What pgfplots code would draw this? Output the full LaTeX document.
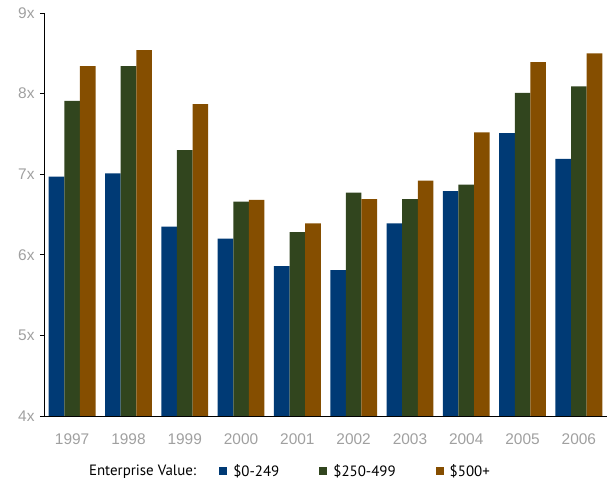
\documentclass[border=0pt]{standalone}
\usepackage{fontspec}
\setmainfont{Liberation Sans}
\newfontfamily\legfont{PT Sans}
\usepackage{pgfplots}
\pgfplotsset{compat=1.18}
\definecolor{cblue}{RGB}{0,58,117}
\definecolor{cgreen}{RGB}{49,69,30}
\definecolor{corange}{RGB}{133,78,0}
\definecolor{tickgray}{RGB}{160,160,160}
\begin{document}
\begin{tikzpicture}
\useasboundingbox (0,0) rectangle (612bp,481bp);
\begin{axis}[
  at={(44bp,65bp)}, anchor=south west,
  scale only axis, width=563bp, height=403bp,
  xmin=-0.5, xmax=9.5, ymin=4, ymax=9,
  ybar=0pt, bar width=15.6bp,
  axis x line*=bottom, axis y line*=left,
  axis line style={black, line width=1pt},
  xtick={0,...,9}, xticklabels={1997,1998,1999,2000,2001,2002,2003,2004,2005,2006},
  xtick style={draw=none},
  ytick={4,5,6,7,8,9}, yticklabels={4x,5x,6x,7x,8x,9x},
  tick align=outside, major tick length=4bp,
  ytick style={black, line width=0.8pt},
  /pgf/number format/assume math mode=true,
  ticklabel style={font=\fontsize{15.5}{18}\selectfont, text=tickgray},
  yticklabel style={xshift=-2bp},
  xticklabel style={yshift=-10bp},
  legend columns=-1,
  legend style={draw=none, fill=none, inner sep=0pt, outer sep=0pt,
    at={(0.0693,-0.137)}, anchor=west,
    font=\legfont\fontsize{15}{18}\selectfont,
    nodes={inner xsep=0pt},
    /tikz/every odd column/.append style={column sep=6bp},
    /tikz/every even column/.append style={column sep=23bp}},
]
\addlegendimage{empty legend}
\addlegendentry{Enterprise Value:}
\addplot[fill=cblue, draw=none, bar shift=-15.6bp,
  legend image code/.code={\fill[cblue] (0bp,-4bp) rectangle (8bp,4bp);}]
  coordinates {(0,6.97) (1,7.01) (2,6.35) (3,6.20) (4,5.86) (5,5.81) (6,6.39) (7,6.79) (8,7.51) (9,7.19)};
\addlegendentry{\$0-249\rule{17bp}{0pt}}
\addplot[fill=cgreen, draw=none, bar shift=0bp,
  legend image code/.code={\fill[cgreen] (0bp,-4bp) rectangle (8bp,4bp);}]
  coordinates {(0,7.91) (1,8.34) (2,7.30) (3,6.66) (4,6.28) (5,6.77) (6,6.69) (7,6.87) (8,8.01) (9,8.09)};
\addlegendentry{\$250-499\rule{17bp}{0pt}}
\addplot[fill=corange, draw=none, bar shift=15.6bp,
  legend image code/.code={\fill[corange] (0bp,-4bp) rectangle (8bp,4bp);}]
  coordinates {(0,8.34) (1,8.54) (2,7.87) (3,6.68) (4,6.39) (5,6.69) (6,6.92) (7,7.52) (8,8.39) (9,8.50)};
\addlegendentry{\$500+}
\end{axis}
\end{tikzpicture}
\end{document}
